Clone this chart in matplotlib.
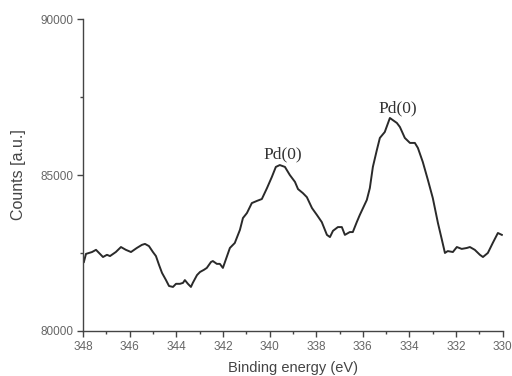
import matplotlib
matplotlib.use('Agg')
import matplotlib.pyplot as plt
from matplotlib.ticker import MultipleLocator

# XPS Pd 3d spectrum
energy = [347.96, 347.87, 347.61, 347.44, 347.27, 347.14, 346.97, 346.84, 346.59, 346.37,
          346.16, 345.94, 345.69, 345.47, 345.34, 345.17, 345.00, 344.87, 344.74, 344.61,
          344.44, 344.31, 344.14, 344.01, 343.84, 343.71, 343.63, 343.50, 343.37, 343.29,
          343.11, 342.98, 342.81, 342.69, 342.51, 342.43, 342.26, 342.13, 342.00, 341.70,
          341.49, 341.27, 341.14, 340.97, 340.76, 340.54, 340.33, 340.11, 339.90, 339.73,
          339.56, 339.34, 339.13, 338.91, 338.78, 338.57, 338.40, 338.18, 337.97, 337.76,
          337.54, 337.41, 337.28, 337.07, 336.90, 336.77, 336.56, 336.43, 336.26, 336.13,
          335.83, 335.70, 335.57, 335.40, 335.27, 335.06, 334.84, 334.71, 334.54, 334.41,
          334.20, 333.98, 333.77, 333.64, 333.43, 333.21, 333.00, 332.78, 332.61, 332.48,
          332.36, 332.14, 331.97, 331.76, 331.54, 331.41, 331.20, 330.98, 330.85, 330.64,
          330.43, 330.21, 330.04]
counts = [82210, 82470, 82530, 82600, 82470, 82370, 82440, 82400, 82530, 82690,
          82600, 82530, 82660, 82760, 82790, 82720, 82530, 82400, 82120, 81860,
          81630, 81440, 81410, 81510, 81510, 81540, 81630, 81510, 81410, 81540,
          81790, 81890, 81960, 82020, 82210, 82240, 82150, 82150, 82020, 82660,
          82820, 83240, 83620, 83780, 84100, 84170, 84230, 84580, 84940, 85260,
          85320, 85260, 85000, 84780, 84550, 84420, 84290, 83940, 83720, 83490,
          83080, 83010, 83210, 83330, 83330, 83080, 83170, 83170, 83490, 83720,
          84200, 84580, 85260, 85800, 86190, 86380, 86830, 86760, 86670, 86540,
          86190, 86030, 86030, 85870, 85420, 84840, 84260, 83460, 82920, 82500,
          82560, 82530, 82690, 82630, 82660, 82690, 82600, 82440, 82370, 82500,
          82820, 83140, 83080]

peak_labels = ['Pd(0)', 'Pd(0)']
peak_x = [339.45, 334.5]
peak_y = [85650, 87150]

fig = plt.figure(figsize=(5.12, 3.76), dpi=100)
ax = fig.add_axes([0.162, 0.12, 0.82, 0.829])

ax.plot(energy, counts, color='#2a2a2a', lw=1.4)

for lab, px, py in zip(peak_labels, peak_x, peak_y):
    ax.text(px, py, lab, ha='center', va='center', fontsize=12.5,
            family='Liberation Serif', color='#333333')

ax.set_xlim(348, 330)
ax.set_ylim(80000, 90000)
ax.xaxis.set_major_locator(MultipleLocator(2))
ax.xaxis.set_minor_locator(MultipleLocator(1))
ax.yaxis.set_major_locator(MultipleLocator(5000))
ax.yaxis.set_minor_locator(MultipleLocator(2500))

for s in ['top', 'right']:
    ax.spines[s].set_visible(False)
for s in ['left', 'bottom']:
    ax.spines[s].set_color('#444444')
    ax.spines[s].set_linewidth(1.0)

ax.tick_params(which='major', direction='out', length=4, width=1, color='#444444',
               labelsize=8.5, labelcolor='#666666', pad=3)
ax.tick_params(which='minor', direction='out', length=2, width=1, color='#444444')
for lbl in ax.get_xticklabels() + ax.get_yticklabels():
    lbl.set_family('Liberation Sans')

ax.set_xlabel('Binding energy (eV)', fontsize=10.5, family='Liberation Sans', color='#444444', labelpad=6)
ax.set_ylabel('Counts [a.u.]', fontsize=11.5, family='Liberation Sans', color='#444444', labelpad=10)

fig.savefig('out.png', dpi=100)
